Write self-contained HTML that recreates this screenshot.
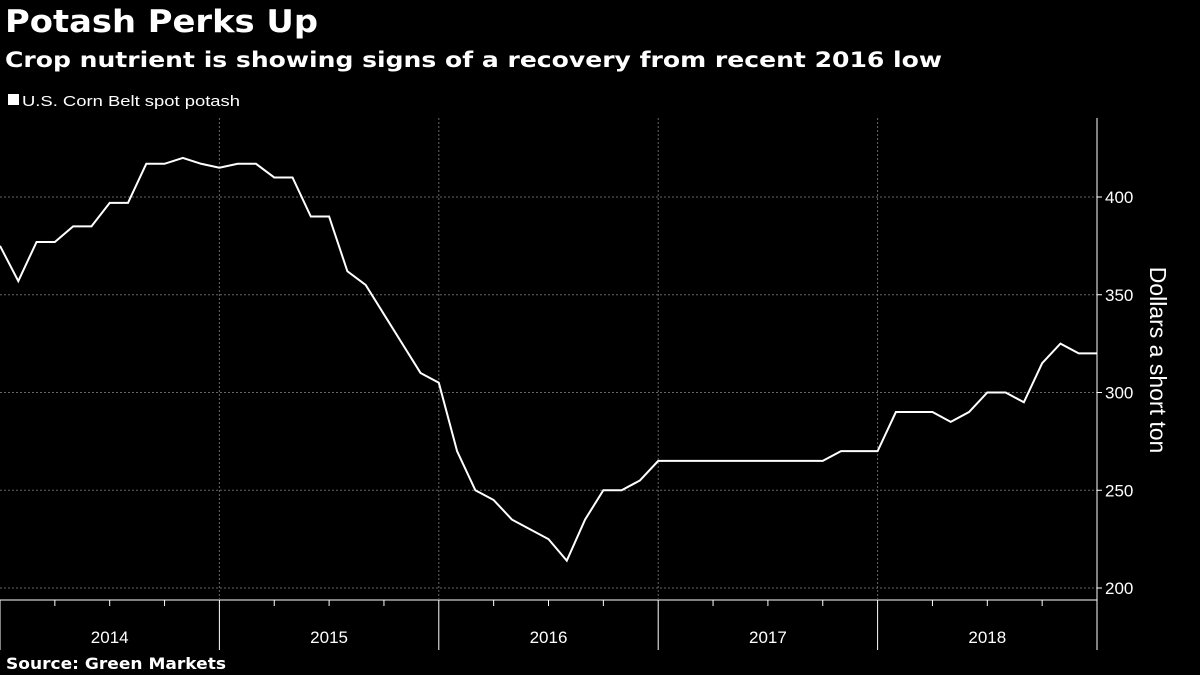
<!DOCTYPE html>
<html><head><meta charset="utf-8"><style>
html,body{margin:0;padding:0;background:#000;width:1200px;height:675px;overflow:hidden;font-family:"Liberation Sans",sans-serif;color:#fff}
</style></head><body>
<svg width="1200" height="675" style="position:absolute;left:0;top:0" id="c" font-family="DejaVu Sans, Liberation Sans, sans-serif">
<text x="5" y="32" fill="#fff" font-size="31" font-weight="bold" textLength="313" lengthAdjust="spacingAndGlyphs">Potash Perks Up</text>
<text x="5" y="67" fill="#fff" font-size="21" font-weight="bold" textLength="937" lengthAdjust="spacingAndGlyphs">Crop nutrient is showing signs of a recovery from recent 2016 low</text>
<text x="6" y="669" fill="#fff" font-size="16" font-weight="bold" textLength="220" lengthAdjust="spacingAndGlyphs">Source: Green Markets</text>
<g><rect x="8" y="94" width="11" height="11" fill="#fff"/><text x="22" y="106" fill="#fff" font-size="15" font-family="Liberation Sans" textLength="218" lengthAdjust="spacingAndGlyphs">U.S. Corn Belt spot potash</text></g>
<text transform="translate(1150,360) rotate(90)" text-anchor="middle" fill="#fff" font-size="23" font-family="Liberation Sans">Dollars a short ton</text>
</svg>
<script>
const values=[375,357,377,377,385,385,397,397,417,417,420,417,415,417,417,410,410,390,390,362,355,340,325,310,305,270,250,245,235,230,225,214,235,250,250,255,265,265,265,265,265,265,265,265,265,265,270,270,270,290,290,290,285,290,300,300,295,315,325,320,320];
const yTicks=[200,250,300,350,400];
const years=["2014","2015","2016","2017","2018"];
const svg=document.getElementById('c');
const NS='http://www.w3.org/2000/svg';
const x0=0,x1=1097,months=60;
const X=i=>x0+(x1-x0)*i/months;
const Y=v=>588-(v-200)*(588-197)/200;
function mk(t,a){const e=document.createElementNS(NS,t);for(const k in a)e.setAttribute(k,a[k]);svg.appendChild(e);return e;}
yTicks.forEach(v=>{
 const l=mk('line',{x1:0,x2:x1,y1:Y(v),y2:Y(v),stroke:'#666','stroke-dasharray':'2,2'});
 
 
 const t=mk('text',{x:1105,y:Y(v)+6,fill:'#fff','font-size':17,'font-family':'Liberation Sans'});t.textContent=v;
 
 
 mk('line',{x1:x1,x2:x1+5,y1:Y(v),y2:Y(v),stroke:'#fff'});
});
mk('line',{x1:x1,x2:x1,y1:118,y2:600,stroke:'#fff'});
mk('line',{x1:0,x2:x1,y1:600,y2:600,stroke:'#fff'});
for(let q=0;q<=20;q++){const x=X(q*3);mk('line',{x1:x,x2:x,y1:600,y2:q%4==0?650:606,stroke:'#fff'});}
years.forEach((y,i)=>{
 if(i>0){const g=mk('line',{x1:X(i*12),x2:X(i*12),y1:118,y2:600,stroke:'#666','stroke-dasharray':'2,2'});
 
 }
 const t=mk('text',{x:X(i*12+6),y:643,fill:'#fff','font-size':17,'text-anchor':'middle','font-family':'Liberation Sans'});t.textContent=y;
 
 
});
const p=mk('polyline',{points:values.map((v,i)=>X(i)+','+Y(v)).join(' '),fill:'none',stroke:'#fff','stroke-width':2});


</script>
</body></html>
